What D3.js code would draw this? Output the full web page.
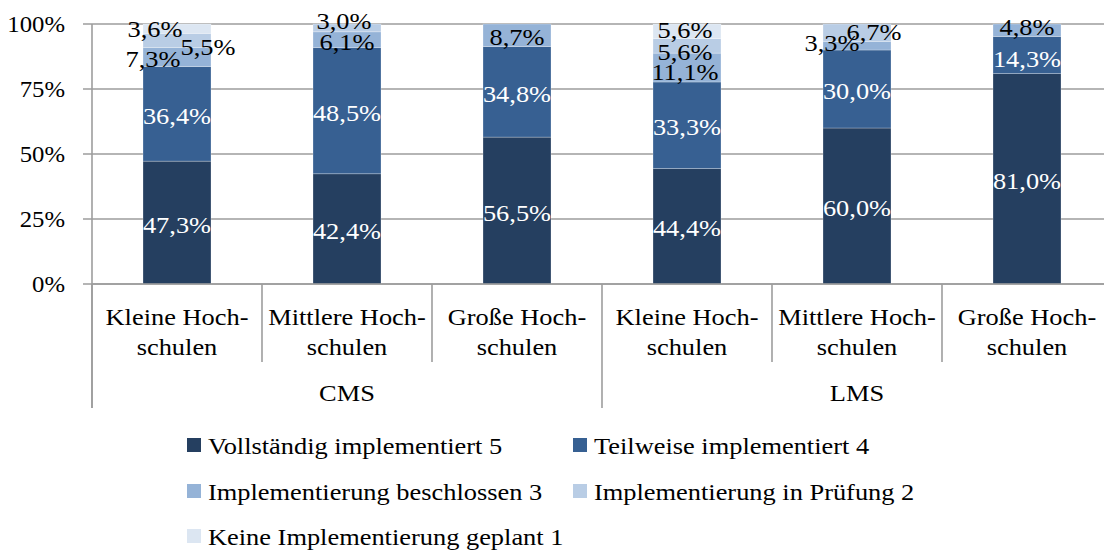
<!DOCTYPE html>
<html><head><meta charset="utf-8">
<script src="https://cdn.jsdelivr.net/npm/d3@7"></script>
</head><body style="margin:0;background:#fff"><svg id="c" width="1104" height="550" style="display:block"></svg>
<script>
const categories = ["Kleine Hoch-|schulen","Mittlere Hoch-|schulen","Große Hoch-|schulen","Kleine Hoch-|schulen","Mittlere Hoch-|schulen","Große Hoch-|schulen"];
const groups = ["CMS","LMS"];
const seriesNames = ["Vollständig implementiert 5","Teilweise implementiert 4","Implementierung beschlossen 3","Implementierung in Prüfung 2","Keine Implementierung geplant 1"];
const vollstaendig = [47.3,42.4,56.5,44.4,60.0,81.0];
const teilweise    = [36.4,48.5,34.8,33.3,30.0,14.3];
const beschlossen  = [7.3,6.1,8.7,11.1,3.3,4.8];
const pruefung     = [5.5,3.0,0,5.6,6.7,0];
const keine        = [3.6,0,0,5.6,0,0];
const yTicks = [0,0.25,0.5,0.75,1];

const FONT = "'Liberation Serif','Times New Roman',serif";
const FS = 24, SX = 1.1;
const seriesVals = [vollstaendig,teilweise,beschlossen,pruefung,keine];
const colors = ["#253f60","#376092","#95b3d7","#b9cde5","#dce6f2"];
const labelColors = ["#fff","#fff","#000","#000","#000"];
// label nudges "series,category" -> [dx, dy] to reproduce the original's overlap avoidance
const nudges = {"2,0":[-24,0],"3,0":[31,4],"4,0":[-22,-2],"3,1":[-3,-9],
  "2,3":[-2,2],"3,3":[-2,4],"4,3":[-2,-3],"2,4":[-25,-5],"3,4":[17,-3],"1,5":[0,2],"2,5":[0,-5]};

const svg = d3.select("#c");
const x0 = 92, x1 = 1112, yTop = 24, yBot = 284;
const x = d3.scaleBand().domain(d3.range(categories.length)).range([x0,x1]).padding(0);
const y = d3.scaleLinear().domain([0,1]).range([yBot,yTop]);
const grid = "#9d9d9d";
// text helper: font + horizontal stretch around anchor point
function label(parent, tx, ty, str, opts={}) {
  return parent.append("text")
    .attr("transform",`translate(${tx},${ty}) scale(${opts.sx||SX},1)`)
    .attr("text-anchor",opts.anchor||"middle")
    .attr("dominant-baseline",opts.baseline||"auto")
    .style("font-family",FONT).attr("font-size",opts.fs||FS).attr("fill",opts.fill||"#000")
    .text(str);
}

// gridlines
svg.append("g").selectAll("line").data(yTicks).join("line")
  .attr("x1",x0-9).attr("x2",x1).attr("y1",d=>y(d)).attr("y2",d=>y(d))
  .attr("stroke",grid).attr("stroke-width",1.6);
// y tick labels
yTicks.forEach(t=>label(svg, 65, y(t), d3.format(".0%")(t), {anchor:"end",baseline:"central",sx:1.03}));
svg.append("line").attr("x1",x0).attr("x2",x0).attr("y1",yTop).attr("y2",408).attr("stroke",grid).attr("stroke-width",1.6);

// stacked data
const rows = categories.map((c,i)=>{const o={i};seriesVals.forEach((s,k)=>o["s"+k]=s[i]);return o;});
const stack = d3.stack().keys(seriesVals.map((s,k)=>"s"+k)).offset(d3.stackOffsetExpand);
const stacked = stack(rows);
const bw = x.bandwidth()*0.4;

stacked.forEach((layer,k)=>{
  svg.append("g").selectAll("rect").data(layer.filter(d=>d[1]-d[0]>0)).join("rect")
    .attr("x",d=>x(d.data.i)+(x.bandwidth()-bw)/2).attr("width",bw)
    .attr("y",d=>y(d[1])).attr("height",d=>y(d[0])-y(d[1]))
    .attr("fill",colors[k]).attr("stroke","#fff").attr("stroke-opacity",0.35).attr("stroke-width",0.75);
});
const lg = svg.append("g");
stacked.forEach((layer,k)=>{
  layer.filter(d=>d[1]-d[0]>0).forEach(d=>{
    const n = nudges[k+","+d.data.i]||[0,0];
    label(lg, x(d.data.i)+x.bandwidth()/2+n[0], y((d[0]+d[1])/2)+2+n[1],
      d3.format(".1f")(seriesVals[k][d.data.i]).replace(".",",")+"%",
      {baseline:"central",fill:labelColors[k]});
  });
});

// category axis
svg.append("line").attr("x1",x0).attr("x2",x1).attr("y1",yBot).attr("y2",yBot).attr("stroke",grid).attr("stroke-width",1.6);
const perGroup = categories.length/groups.length;
d3.range(categories.length+1).forEach(i=>{
  const xx = i===categories.length ? x1 : x(i);
  const isGroup = i%perGroup===0;
  svg.append("line").attr("x1",xx).attr("x2",xx).attr("y1",yBot).attr("y2",isGroup?408:362)
    .attr("stroke",grid).attr("stroke-width",1.6);
});
categories.forEach((c,i)=>{
  const cx = x(i)+x.bandwidth()/2;
  c.split("|").forEach((ln,j)=>label(svg, cx, 325+j*30, ln));
});
groups.forEach((g,gi)=>{
  const a = x(gi*perGroup), b = x(gi*perGroup+perGroup-1)+x.bandwidth();
  label(svg, (a+b)/2, 401, g);
});

// legend
const legPos = [[187,445],[573,445],[187,491],[573,491],[187,536]];
seriesNames.forEach((n,k)=>{
  const [lx,ly] = legPos[k];
  svg.append("rect").attr("x",lx).attr("y",ly-7).attr("width",14).attr("height",14).attr("fill",colors[k]);
  label(svg, lx+21, ly+1, n, {anchor:"start",baseline:"central"});
});
</script></body></html>
